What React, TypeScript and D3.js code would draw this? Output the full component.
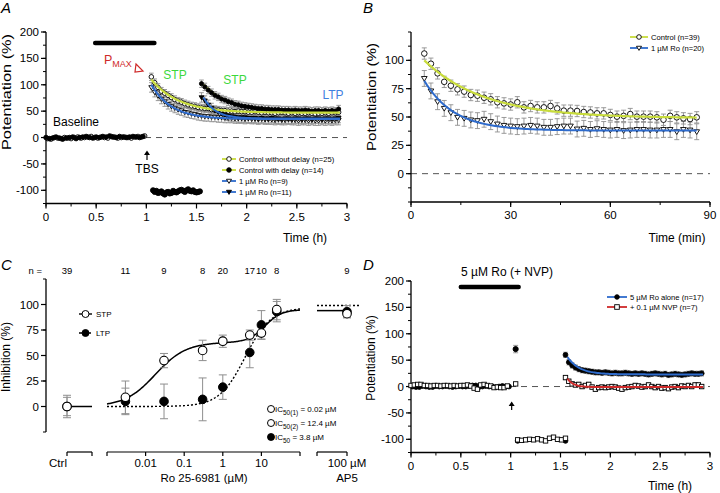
import React from "react";
import * as d3 from "d3";

const FONT = "'Liberation Sans', Arial, Helvetica, sans-serif";
const W = 720;
const H = 493;
const GRAY = "#8e8e8e";
const YELLOW = "#c8dc3c";
const BLUE = "#2e6bcc";
const RED = "#cf2a2a";
const GREEN = "#3cd83c";
const LTPBLUE = "#3f80e0";

// ---------------- Panel A data ----------------
const A_xTicks = [0, 0.5, 1, 1.5, 2, 2.5, 3];
const A_yTicks = [-100, -50, 0, 50, 100, 150, 200];
const A_step = 1 / 30;
const A_baseFilledStart = 0;
const A_baseFilled = [0, -2, -1, 1, -1, -3, -1, 0, 1, -2, 0, 1, 2, 0, -1, 1, 0, 2, 1, 3, 1, 0, 2, 1, 0, 1, 2, 1, 0, 2];
const A_baseOpenStart = 1 / 60;
const A_baseOpen = [-2, -3, 0, -1, -2, 0, -1, -2, 0, 1, -1, 0, 1, 2, 0, -1, 1, 0, -1, 2, 1, -1, 0, 1, 0, -1, 1, 2, 1, 3];
const A_tbsStart = 1.067;
const A_tbsStep = 1 / 60;
const A_tbs = [-100, -103, -101, -105, -104, -102, -106, -108, -104, -103, -106, -105, -101, -103, -104, -102, -100, -99, -101, -103, -100, -98, -101, -102, -100, -103, -104, -103, -102];
const A_ctrlNoDelayStart = 1.05;
const A_ctrlNoDelay = [115, 104, 95, 88, 84, 80, 76, 72, 69, 67, 64, 62, 60, 59, 57, 56, 55, 55, 53, 52,
  52, 51, 51, 50, 50, 49, 50, 49, 49, 48, 48, 49, 48, 47, 48, 47, 47, 46, 47, 48, 47, 46, 47, 46, 47, 46, 46, 47, 46, 45, 46, 46, 47, 46, 47, 47, 48];
const A_ctrlDelayStart = 1.55;
const A_ctrlDelay = [102, 96, 90, 85, 80, 77, 73, 71, 68, 66, 63, 62, 60, 59, 58, 57,
  56, 55, 55, 54, 54, 53, 53, 53, 52, 52, 52, 51, 52, 51, 51, 52, 51, 50, 51, 51, 50, 51, 50, 51, 50, 54];
const A_roNoDelayStart = 1.05;
const A_roNoDelay = [95, 86, 79, 73, 68, 63, 59, 56, 53, 51, 48, 47, 45, 44, 42, 41,
  40, 40, 39, 39, 38, 38, 37, 37, 37, 36, 36, 36, 35, 36, 35, 35, 34, 35, 34, 34, 34, 33, 34, 33, 33, 34, 33, 33, 32, 33, 33, 32, 33, 32, 32, 33, 32, 33, 32, 33, 33];
const A_roDelayStart = 1.55;
const A_roDelay = [76, 70, 62, 56, 51, 48, 45, 43, 41, 40,
  39, 38, 38, 38, 37, 37, 37, 36, 37, 36, 36, 37, 36, 36, 35, 36, 36, 35, 36, 36, 35, 36, 36, 35, 36, 36, 35, 36, 36, 35, 36, 37];
const A_errCtrl = 7;
const A_errRo = 9;
// exponential fits: plateau + amp * exp(-(t - t0) / tau)
const A_fitCtrlNoDelay = { t0: 1.05, t1: 2.93, plateau: 47, amp: 63, tau: 0.27 };
const A_fitCtrlDelay = { t0: 1.57, t1: 2.93, plateau: 50, amp: 50, tau: 0.25 };
const A_fitRoNoDelay = { t0: 1.05, t1: 2.93, plateau: 35, amp: 65, tau: 0.2 };
const A_fitRoDelay = { t0: 1.57, t1: 2.93, plateau: 36, amp: 40, tau: 0.12 };
const A_legend = ["Control without delay (n=25)", "Control with delay (n=14)", "1 µM Ro (n=9)", "1 µM Ro (n=11)"];

// ---------------- Panel B data ----------------
const B_xTicks = [0, 30, 60, 90];
const B_yTicks = [0, 25, 50, 75, 100];
const B_start = 4;
const B_step = 2;
const B_ctrl = [106, 97, 88.5, 81, 77.6, 74.4, 72.4, 69.4, 68.8, 67, 65.6, 63, 62, 61, 63, 58.5, 59.7, 58.5, 58.5, 59.7, 57.6,
  55.6, 55.6, 55.3, 54.4, 54, 53.2, 53.2, 51.8, 50.3, 51, 52.6, 50.3, 50.3, 50.3, 49.7, 47.6, 51, 49.7, 48.8, 48.2, 49.7];
const B_ro = [84, 73, 63.5, 57.6, 53.8, 49.7, 48.8, 47.4, 46.8, 48, 45.9, 43.8, 42.6, 42, 41.5, 42, 42.6, 42, 40.9, 40.9, 41.5,
  42, 42, 39.4, 40, 39, 39.7, 39, 38.5, 39, 38, 38.5, 39, 39, 38.5, 38.5, 39, 39, 37, 39, 38.5, 37];
const B_errCtrl = 5;
const B_errRo = 7;
const B_fitCtrl = { t0: 4, t1: 86, plateau: 49, amp: 51, tau: 18 };
const B_fitRo = { t0: 4, t1: 86, plateau: 38, amp: 44, tau: 9 };
const B_legend = ["Control (n=39)", "1 µM Ro (n=20)"];

// ---------------- Panel C data ----------------
const C_yTicks = [0, 25, 50, 75, 100];
const C_xTicks = [0.01, 0.1, 1, 10];
const C_xTickLabels = ["0.01", "0.1", "1", "10"];
const C_conc = [0.003, 0.03, 0.3, 1, 5, 10, 25];
const C_stp = [9, 45, 55, 64, 70, 72, 95];
const C_stpErr = [16, 7, 10, 6, 5, 6, 10];
const C_ltp = [5, 5, 7, 19, 53, 80, 93];
const C_ltpErr = [13, 17, 21, 12, 15, 14, 10];
const C_ctrl = { stp: 0, stpErr: 11, ltp: 0, ltpErr: 9 };
const C_ap5 = { stp: 91, stpErr: 4, ltp: 93, ltpErr: 6, stpFit: 94, ltpFit: 99 };
const C_nConc = [0.003, 0.03, 0.3, 1, 5, 10, 25];
const C_nVals = [11, 9, 8, 20, 17, 10, 8];
const C_nCtrl = 39;
const C_nAp5 = 9;
// two-site (STP) and one-site (LTP) logistic fits
const C_fitStp = { a1: 63, ic1: 0.018, h1: 1.1, a2: 32, ic2: 12.4, h2: 2 };
const C_fitLtp = { top: 97, ic: 3.8, h: 1.3 };

// ---------------- Panel D data ----------------
const D_xTicks = [0, 0.5, 1, 1.5, 2, 2.5, 3];
const D_yTicks = [-100, -50, 0, 50, 100, 150, 200];
const D_step = 1 / 30;
const D_baseOpen = [2, 3, 4, 4, 2, 2, 1, 2, 2, 1, 2, 2, 1, 2, 1, 2, 2, 3, 1, -3, -5, 3, 4, 2, 1, -2, -1, -2, -2, 1];
const D_baseFilledStart = 1 / 60;
const D_baseFilled = [0, -1, -1, 1, 0, -1, -1, 1, 0, 0, 1, 0, -1, 0, 1, 0, 0, 1, 2, 2, -1, 0, 1, 0, 0, -1, 0, 1, 0, 0];
const D_tbsTime = 1.05;
const D_tbsFilled = 71;
const D_tbsFilledErr = 7;
const D_tbsOpen = 5;
const D_blockStart = 1.07;
const D_blockStep = 0.04;
const D_blockOpen = [-101, -102, -101, -100, -101, -99, -101, -103, -98, -96, -100, -101, -98];
const D_blockFilled = [-103, -103];
const D_postStart = 1.55;
const D_roAlone = [60, 46, 40, 36, 33, 31, 30, 29, 28, 27, 27, 26, 27, 26, 25, 26, 25, 25, 26, 25, 24, 25, 24, 25, 24, 23, 24, 25, 24, 23, 24, 22, 23, 24, 23, 22, 23, 24, 25, 24, 24, 25];
const D_nvp = [17, 10, 5, 3, 4, 0, 2, 4, -1, -5, -2, -1, -2, -1, 0, -1, -3, -5, -2, -1, 0, 2, 1, -1, 0, 3, 0, -2, 0, -3, -2, -4, -1, 0, -2, 1, 0, 2, 0, 3, 3, 0];
const D_errRo = 5;
const D_errNvp = 4;
const D_fitRo = { t0: 1.57, t1: 2.93, plateau: 23, amp: 33, tau: 0.12 };
const D_fitNvp = { t0: 1.57, t1: 2.93, plateau: -1, amp: 16, tau: 0.06 };
const D_legend = ["5 µM Ro alone (n=17)", "+ 0.1 µM NVP (n=7)"];

// ---------------- helpers ----------------
type Pt = { t: number; v: number };
const series = (start: number, step: number, vals: number[]): Pt[] => vals.map((v, i) => ({ t: start + i * step, v }));
const expFit = (f: { t0: number; t1: number; plateau: number; amp: number; tau: number }): Pt[] =>
  d3.range(0, 101).map((i) => {
    const t = f.t0 + ((f.t1 - f.t0) * i) / 100;
    return { t, v: f.plateau + f.amp * Math.exp(-(t - f.t0) / f.tau) };
  });

function Marker({ type, x, y, r = 2.6, sw = 0.9 }: { type: string; x: number; y: number; r?: number; sw?: number }) {
  const filled = type[0] === "f";
  const fill = filled ? "#000" : "#fff";
  const shape = type[1];
  if (shape === "c") return <circle cx={x} cy={y} r={r} fill={fill} stroke="#000" strokeWidth={sw} />;
  if (shape === "s") return <rect x={x - r} y={y - r} width={2 * r} height={2 * r} fill={fill} stroke="#000" strokeWidth={sw} />;
  const d = `M${x - r * 1.1},${y - r * 0.75}L${x + r * 1.1},${y - r * 0.75}L${x},${y + r * 1.05}Z`;
  return <path d={d} fill={fill} stroke="#000" strokeWidth={sw} />;
}

function ErrBars({ pts, err, xs, ys, cap = 2.3, color = GRAY }: any) {
  return (
    <g stroke={color} strokeWidth={0.9}>
      {pts.map((p: Pt, i: number) => {
        const e = Array.isArray(err) ? err[i] : err;
        const x = xs(p.t);
        const y1 = ys(p.v - e);
        const y2 = ys(p.v + e);
        return (
          <g key={i}>
            <line x1={x} x2={x} y1={y1} y2={y2} />
            <line x1={x - cap} x2={x + cap} y1={y1} y2={y1} />
            <line x1={x - cap} x2={x + cap} y1={y2} y2={y2} />
          </g>
        );
      })}
    </g>
  );
}

function Markers({ pts, type, xs, ys, r }: any) {
  return (
    <g>
      {pts.map((p: Pt, i: number) => (
        <Marker key={i} type={type} x={xs(p.t)} y={ys(p.v)} r={r} />
      ))}
    </g>
  );
}

function FitLine({ pts, xs, ys, color, width = 2, dash }: any) {
  const line = d3.line<Pt>().x((p) => xs(p.t)).y((p) => ys(p.v));
  return <path d={line(pts) || ""} fill="none" stroke={color} strokeWidth={width} strokeDasharray={dash} />;
}

function YAxis({ x, ys, ticks, minor, fs = 11.5 }: any) {
  const [b, t] = ys.range();
  return (
    <g>
      <line x1={x} x2={x} y1={t} y2={b} stroke="#000" strokeWidth={1.3} />
      {minor.map((v: number) => (
        <line key={"m" + v} x1={x - 3} x2={x} y1={ys(v)} y2={ys(v)} stroke="#000" strokeWidth={1} />
      ))}
      {ticks.map((v: number) => (
        <g key={"M" + v}>
          <line x1={x - 5} x2={x} y1={ys(v)} y2={ys(v)} stroke="#000" strokeWidth={1.2} />
          <text x={x - 7} y={ys(v)} dy="0.35em" textAnchor="end" fontSize={fs}>
            {String(v)}
          </text>
        </g>
      ))}
    </g>
  );
}

function XAxis({ y, xs, ticks, minor, fs = 11.5, labelDy = 17 }: any) {
  const [l, r] = xs.range();
  return (
    <g>
      <line x1={l} x2={r} y1={y} y2={y} stroke="#000" strokeWidth={1.3} />
      {minor.map((v: number) => (
        <line key={"m" + v} x1={xs(v)} x2={xs(v)} y1={y} y2={y + 3} stroke="#000" strokeWidth={1} />
      ))}
      {ticks.map((v: number) => (
        <g key={"M" + v}>
          <line x1={xs(v)} x2={xs(v)} y1={y} y2={y + 5} stroke="#000" strokeWidth={1.2} />
          <text x={xs(v)} y={y + labelDy} textAnchor="middle" fontSize={fs}>
            {String(v)}
          </text>
        </g>
      ))}
    </g>
  );
}

function LegendRow({ x, y, color, type, label, fs = 7.6, len = 14 }: any) {
  return (
    <g>
      <line x1={x} x2={x + len} y1={y} y2={y} stroke={color} strokeWidth={1.8} />
      <Marker type={type} x={x + len / 2} y={y} r={2.3} />
      <text x={x + len + 3} y={y} dy="0.35em" fontSize={fs}>
        {label}
      </text>
    </g>
  );
}

export default function App() {
  // ---------- Panel A ----------
  const ax = d3.scaleLinear().domain([0, 3]).range([46, 347]);
  const ay = d3.scaleLinear().domain([-125, 200]).range([203.5, 32]);
  const aBaseF = series(A_baseFilledStart, A_step, A_baseFilled);
  const aBaseO = series(A_baseOpenStart, A_step, A_baseOpen);
  const aTbs = series(A_tbsStart, A_tbsStep, A_tbs);
  const aCN = series(A_ctrlNoDelayStart, A_step, A_ctrlNoDelay);
  const aCD = series(A_ctrlDelayStart, A_step, A_ctrlDelay);
  const aRN = series(A_roNoDelayStart, A_step, A_roNoDelay);
  const aRD = series(A_roDelayStart, A_step, A_roDelay);

  // ---------- Panel B ----------
  const bx = d3.scaleLinear().domain([0, 90]).range([411, 710]);
  const by = d3.scaleLinear().domain([-25, 125]).range([202, 32]);
  const bC = series(B_start, B_step, B_ctrl);
  const bR = series(B_start, B_step, B_ro);

  // ---------- Panel C ----------
  const cx = d3.scaleLog().domain([0.001, 100]).range([107, 300]);
  const cy = d3.scaleLinear().domain([-25, 125]).range([432, 279]);
  const cCtrlX = 67;
  const cAp5X = 347;
  const stpFit = (c: number) =>
    C_fitStp.a1 / (1 + Math.pow(C_fitStp.ic1 / c, C_fitStp.h1)) + C_fitStp.a2 / (1 + Math.pow(C_fitStp.ic2 / c, C_fitStp.h2));
  const ltpFit = (c: number) => C_fitLtp.top / (1 + Math.pow(C_fitLtp.ic / c, C_fitLtp.h));
  const concGrid = d3.range(0, 201).map((i) => Math.pow(10, -3 + (5 * i) / 200));
  const stpPath = d3.line<number>().x((c) => cx(c)).y((c) => cy(stpFit(c)))(concGrid) || "";
  const ltpPath = d3.line<number>().x((c) => cx(c)).y((c) => cy(ltpFit(c)))(concGrid) || "";

  // ---------- Panel D ----------
  const dx = d3.scaleLinear().domain([0, 3]).range([411, 710]);
  const dy = d3.scaleLinear().domain([-125, 200]).range([452.5, 281]);
  const dBaseO = series(0, D_step, D_baseOpen);
  const dBaseF = series(D_baseFilledStart, D_step, D_baseFilled);
  const dBlockO = series(D_blockStart, D_blockStep, D_blockOpen);
  const dBlockF = [
    { t: D_blockStart, v: D_blockFilled[0] },
    { t: D_postStart, v: D_blockFilled[1] },
  ];
  const dRo = series(D_postStart, D_step, D_roAlone);
  const dNvp = series(D_postStart, D_step, D_nvp);

  const minorA = d3.range(-125, 201, 25);
  const minorAx = d3.range(0, 3.01, 0.25);
  const cR = 4.3;

  return (
    <svg width={W} height={H} style={{ position: "absolute", left: 0, top: 0, background: "#fff" }} fontFamily={FONT}>
      <rect x={0} y={0} width={W} height={H} fill="#fff" />
      {/* panel letters */}
      <g fontSize={15} fontStyle="italic">
        <text x={1} y={13}>A</text>
        <text x={363} y={13}>B</text>
        <text x={1} y={270}>C</text>
        <text x={363} y={270}>D</text>
      </g>

      {/* ================= PANEL A ================= */}
      <g>
        <line x1={ax(0)} x2={ax(3)} y1={ay(0)} y2={ay(0)} stroke="#555" strokeWidth={1} strokeDasharray="6,5" />
        <YAxis x={46} ys={ay} ticks={A_yTicks} minor={minorA} />
        <XAxis y={203.5} xs={ax} ticks={A_xTicks} minor={minorAx} />
        <text x={305} y={242} textAnchor="middle" fontSize={12}>Time (h)</text>
        <text transform="translate(10.5,92) rotate(-90)" textAnchor="middle" fontSize={12} textLength={116} lengthAdjust="spacingAndGlyphs">
          Potentiation (%)
        </text>
        {/* drug bar */}
        <line x1={ax(0.49)} x2={ax(1.08)} y1={43} y2={43} stroke="#000" strokeWidth={4.5} strokeLinecap="round" />
        {/* error bars */}
        <ErrBars pts={aBaseF} err={2} xs={ax} ys={ay} cap={1.5} />
        <ErrBars pts={aTbs} err={3} xs={ax} ys={ay} cap={1.5} />
        <ErrBars pts={aRN} err={A_errRo} xs={ax} ys={ay} />
        <ErrBars pts={aCN} err={A_errCtrl} xs={ax} ys={ay} />
        <ErrBars pts={aRD} err={A_errRo} xs={ax} ys={ay} />
        <ErrBars pts={aCD} err={A_errCtrl} xs={ax} ys={ay} />
        <FitLine pts={expFit(A_fitCtrlDelay)} xs={ax} ys={ay} color={YELLOW} width={2.2} />
        {/* markers */}
        <Markers pts={aRN} type="ot" xs={ax} ys={ay} r={2.3} />
        <Markers pts={aCN} type="oc" xs={ax} ys={ay} r={2.3} />
        <Markers pts={aRD} type="ft" xs={ax} ys={ay} r={2.2} />
        <Markers pts={aCD} type="fc" xs={ax} ys={ay} r={2.1} />
        <Markers pts={aBaseO} type="oc" xs={ax} ys={ay} r={2.3} />
        <Markers pts={aBaseF} type="fc" xs={ax} ys={ay} r={2.3} />
        <Markers pts={aTbs} type="fc" xs={ax} ys={ay} r={2.6} />
        {/* fits on top */}
        <FitLine pts={expFit(A_fitCtrlNoDelay)} xs={ax} ys={ay} color={YELLOW} width={2.2} />
        <FitLine pts={expFit(A_fitRoNoDelay)} xs={ax} ys={ay} color={BLUE} width={2} />
        <FitLine pts={expFit(A_fitRoDelay)} xs={ax} ys={ay} color={BLUE} width={2} />
        {/* annotations */}
        <text x={53} y={126} fontSize={12}>Baseline</text>
        <text x={104} y={64} fontSize={12.5} fill={RED}>
          P<tspan fontSize={9} dy={3}>MAX</tspan>
        </text>
        <path d="M136,64 L143,71 L135,72 Z" fill="#fff" stroke={RED} strokeWidth={1.2} />
        <text x={175} y={79} textAnchor="middle" fontSize={12} fill={GREEN}>STP</text>
        <text x={235} y={84} textAnchor="middle" fontSize={12} fill={GREEN}>STP</text>
        <text x={333} y={99} textAnchor="middle" fontSize={12} fill={LTPBLUE}>LTP</text>
        <line x1={147} x2={147} y1={160} y2={152} stroke="#000" strokeWidth={1.2} />
        <path d="M144,155 L147,150.5 L150,155 Z" fill="#000" />
        <text x={147} y={173} textAnchor="middle" fontSize={12}>TBS</text>
        {/* legend */}
        <LegendRow x={222} y={159} color={YELLOW} type="oc" label={A_legend[0]} />
        <LegendRow x={222} y={170} color={YELLOW} type="fc" label={A_legend[1]} />
        <LegendRow x={222} y={181} color={BLUE} type="ot" label={A_legend[2]} />
        <LegendRow x={222} y={192} color={BLUE} type="ft" label={A_legend[3]} />
      </g>

      {/* ================= PANEL B ================= */}
      <g>
        <line x1={bx(0)} x2={bx(90)} y1={by(0)} y2={by(0)} stroke="#555" strokeWidth={1} strokeDasharray="6,5" />
        <YAxis x={411} ys={by} ticks={B_yTicks} minor={d3.range(-25, 126, 12.5)} />
        <XAxis y={202} xs={bx} ticks={B_xTicks} minor={d3.range(0, 91, 15)} />
        <text x={677} y={242} textAnchor="middle" fontSize={12}>Time (min)</text>
        <text transform="translate(375.5,97) rotate(-90)" textAnchor="middle" fontSize={12} textLength={108} lengthAdjust="spacingAndGlyphs">
          Potentiation (%)
        </text>
        <ErrBars pts={bR} err={B_errRo} xs={bx} ys={by} cap={2.5} />
        <ErrBars pts={bC} err={B_errCtrl} xs={bx} ys={by} cap={2.5} />
        <Markers pts={bC} type="oc" xs={bx} ys={by} r={2.8} />
        <Markers pts={bR} type="ot" xs={bx} ys={by} r={2.6} />
        <FitLine pts={expFit(B_fitCtrl)} xs={bx} ys={by} color={YELLOW} width={2.2} />
        <FitLine pts={expFit(B_fitRo)} xs={bx} ys={by} color={BLUE} width={2} />
        <LegendRow x={630} y={37} color={YELLOW} type="oc" label={B_legend[0]} len={18} />
        <LegendRow x={630} y={48} color={BLUE} type="ot" label={B_legend[1]} len={18} />
      </g>

      {/* ================= PANEL C ================= */}
      <g>
        <YAxis x={46} ys={cy} ticks={C_yTicks} minor={d3.range(-25, 126, 25)} />
        <text transform={`translate(10,357) rotate(-90)`} textAnchor="middle" fontSize={12}>Inhibition (%)</text>
        {/* n labels */}
        <g fontSize={9.5} textAnchor="middle">
          <text x={42} y={274} textAnchor="end">n =</text>
          <text x={cCtrlX} y={274}>{C_nCtrl}</text>
          {C_nConc.map((c, i) => (
            <text key={i} x={cx(c)} y={274}>{C_nVals[i]}</text>
          ))}
          <text x={cAp5X} y={274}>{C_nAp5}</text>
        </g>
        {/* bottom bracket axes */}
        <g stroke="#000" strokeWidth={1.2}>
          <line x1={cCtrlX} x2={92} y1={452} y2={452} />
          <line x1={cCtrlX} x2={cCtrlX} y1={452} y2={456} />
          <line x1={92} x2={92} y1={452} y2={456} />
          <line x1={cx(0.001)} x2={cx(100)} y1={452} y2={452} />
          <line x1={cx(0.001)} x2={cx(0.001)} y1={452} y2={456} />
          <line x1={cx(100)} x2={cx(100)} y1={452} y2={456} />
          {C_xTicks.map((c) => (
            <line key={c} x1={cx(c)} x2={cx(c)} y1={452} y2={456} />
          ))}
          <line x1={317} x2={cAp5X} y1={452} y2={452} />
          <line x1={317} x2={317} y1={452} y2={456} />
          <line x1={cAp5X} x2={cAp5X} y1={452} y2={456} />
        </g>
        <g fontSize={11.5} textAnchor="middle">
          <text x={58} y={467}>Ctrl</text>
          {C_xTicks.map((c, i) => (
            <text key={c} x={cx(c)} y={467}>{C_xTickLabels[i]}</text>
          ))}
          <text x={204} y={482}>Ro 25-6981 (µM)</text>
          <text x={347} y={467}>100 µM</text>
          <text x={347} y={482}>AP5</text>
        </g>
        {/* fit curves */}
        <path d={ltpPath} fill="none" stroke="#000" strokeWidth={1.4} strokeDasharray="2,2" />
        <path d={stpPath} fill="none" stroke="#000" strokeWidth={1.5} />
        <line x1={cCtrlX} x2={92} y1={cy(0)} y2={cy(0)} stroke="#000" strokeWidth={1.5} />
        <line x1={317} x2={cAp5X} y1={cy(C_ap5.stpFit)} y2={cy(C_ap5.stpFit)} stroke="#000" strokeWidth={1.5} />
        <line x1={317} x2={360} y1={cy(C_ap5.ltpFit)} y2={cy(C_ap5.ltpFit)} stroke="#000" strokeWidth={1.4} strokeDasharray="2,2" />
        {/* error bars */}
        <g stroke={GRAY} strokeWidth={1}>
          {C_conc.map((c, i) => (
            <g key={"e" + i}>
              {[
                [C_stp[i], C_stpErr[i]],
                [C_ltp[i], C_ltpErr[i]],
              ].map(([v, e], j) => (
                <g key={j}>
                  <line x1={cx(c)} x2={cx(c)} y1={cy(v - e)} y2={cy(v + e)} />
                  <line x1={cx(c) - 4} x2={cx(c) + 4} y1={cy(v - e)} y2={cy(v - e)} />
                  <line x1={cx(c) - 4} x2={cx(c) + 4} y1={cy(v + e)} y2={cy(v + e)} />
                </g>
              ))}
            </g>
          ))}
          {[
            [cCtrlX, C_ctrl.stp, C_ctrl.stpErr],
            [cCtrlX, C_ctrl.ltp, C_ctrl.ltpErr],
            [cAp5X, C_ap5.stp, C_ap5.stpErr],
            [cAp5X, C_ap5.ltp, C_ap5.ltpErr],
          ].map(([x, v, e], j) => (
            <g key={"x" + j}>
              <line x1={x} x2={x} y1={cy(v - e)} y2={cy(v + e)} />
              <line x1={x - 4} x2={x + 4} y1={cy(v - e)} y2={cy(v - e)} />
              <line x1={x - 4} x2={x + 4} y1={cy(v + e)} y2={cy(v + e)} />
            </g>
          ))}
        </g>
        {/* points */}
        {C_conc.map((c, i) => (
          <Marker key={"l" + i} type="fc" x={cx(c)} y={cy(C_ltp[i])} r={cR} sw={1} />
        ))}
        {C_conc.map((c, i) => (
          <Marker key={"s" + i} type="oc" x={cx(c)} y={cy(C_stp[i])} r={cR} sw={1.1} />
        ))}
        <Marker type="fc" x={cCtrlX} y={cy(C_ctrl.ltp)} r={cR} />
        <Marker type="oc" x={cCtrlX} y={cy(C_ctrl.stp)} r={cR} sw={1.1} />
        <Marker type="fc" x={cAp5X} y={cy(C_ap5.ltp)} r={cR} />
        <Marker type="oc" x={cAp5X} y={cy(C_ap5.stp)} r={cR} sw={1.1} />
        {/* legend */}
        <g>
          <line x1={79} x2={92} y1={314} y2={314} stroke="#000" strokeWidth={1.4} />
          <Marker type="oc" x={85.5} y={314} r={3.5} sw={1} />
          <text x={96} y={314} dy="0.35em" fontSize={8}>STP</text>
          <line x1={79} x2={92} y1={333} y2={333} stroke="#000" strokeWidth={1.4} strokeDasharray="3,1.5" />
          <Marker type="fc" x={85.5} y={333} r={3.5} />
          <text x={96} y={333} dy="0.35em" fontSize={8}>LTP</text>
        </g>
        <g fontSize={8}>
          <Marker type="oc" x={271} y={409} r={3.5} sw={1} />
          <text x={275} y={412}>
            IC<tspan fontSize={6.5} dy={2.5}>50(1)</tspan>
            <tspan dy={-2.5}> = 0.02 µM</tspan>
          </text>
          <Marker type="oc" x={271} y={423} r={3.5} sw={1} />
          <text x={275} y={426}>
            IC<tspan fontSize={6.5} dy={2.5}>50(2)</tspan>
            <tspan dy={-2.5}> = 12.4 µM</tspan>
          </text>
          <Marker type="fc" x={271} y={437} r={3.5} />
          <text x={275} y={440}>
            IC<tspan fontSize={6.5} dy={2.5}>50</tspan>
            <tspan dy={-2.5}> = 3.8 µM</tspan>
          </text>
        </g>
      </g>

      {/* ================= PANEL D ================= */}
      <g>
        <line x1={dx(0)} x2={dx(3)} y1={dy(0)} y2={dy(0)} stroke="#555" strokeWidth={1} strokeDasharray="6,5" />
        <YAxis x={411} ys={dy} ticks={D_yTicks} minor={minorA} />
        <XAxis y={452.5} xs={dx} ticks={D_xTicks} minor={minorAx} />
        <text x={670} y={490} textAnchor="middle" fontSize={12}>Time (h)</text>
        <text transform="translate(374.5,358) rotate(-90)" textAnchor="middle" fontSize={12}>Potentiation (%)</text>
        <text x={507} y={276} textAnchor="middle" fontSize={12}>5 µM Ro (+ NVP)</text>
        <line x1={dx(0.5)} x2={dx(1.08)} y1={287} y2={287} stroke="#000" strokeWidth={4.5} strokeLinecap="round" />
        <line x1={dx(1.01)} x2={dx(1.01)} y1={410} y2={404} stroke="#000" strokeWidth={1.2} />
        <path d={`M${dx(1.01) - 3},${406} L${dx(1.01)},${401.5} L${dx(1.01) + 3},${406} Z`} fill="#000" />
        <ErrBars pts={dRo} err={D_errRo} xs={dx} ys={dy} cap={2.3} />
        <ErrBars pts={dNvp} err={D_errNvp} xs={dx} ys={dy} cap={2.3} />
        <ErrBars pts={[{ t: D_tbsTime, v: D_tbsFilled }]} err={D_tbsFilledErr} xs={dx} ys={dy} cap={2.5} />
        <ErrBars pts={dBlockO} err={2} xs={dx} ys={dy} cap={1.5} />
        <Markers pts={dBaseF} type="fc" xs={dx} ys={dy} r={2.4} />
        <Markers pts={dBlockF} type="fc" xs={dx} ys={dy} r={2.4} />
        <Markers pts={dRo} type="fc" xs={dx} ys={dy} r={2.4} />
        <Markers pts={dBaseO} type="os" xs={dx} ys={dy} r={2.2} />
        <Markers pts={dBlockO} type="os" xs={dx} ys={dy} r={2.2} />
        <Markers pts={[{ t: D_tbsTime, v: D_tbsFilled }]} type="fc" xs={dx} ys={dy} r={2.6} />
        <Markers pts={[{ t: D_tbsTime, v: D_tbsOpen }]} type="os" xs={dx} ys={dy} r={2.2} />
        <Markers pts={dNvp} type="os" xs={dx} ys={dy} r={2.2} />
        <FitLine pts={expFit(D_fitRo)} xs={dx} ys={dy} color={BLUE} width={2} />
        <FitLine pts={expFit(D_fitNvp)} xs={dx} ys={dy} color={RED} width={2} />
        <LegendRow x={607} y={297} color={BLUE} type="fc" label={D_legend[0]} len={20} />
        <LegendRow x={607} y={307} color={RED} type="os" label={D_legend[1]} len={20} />
      </g>
    </svg>
  );
}
